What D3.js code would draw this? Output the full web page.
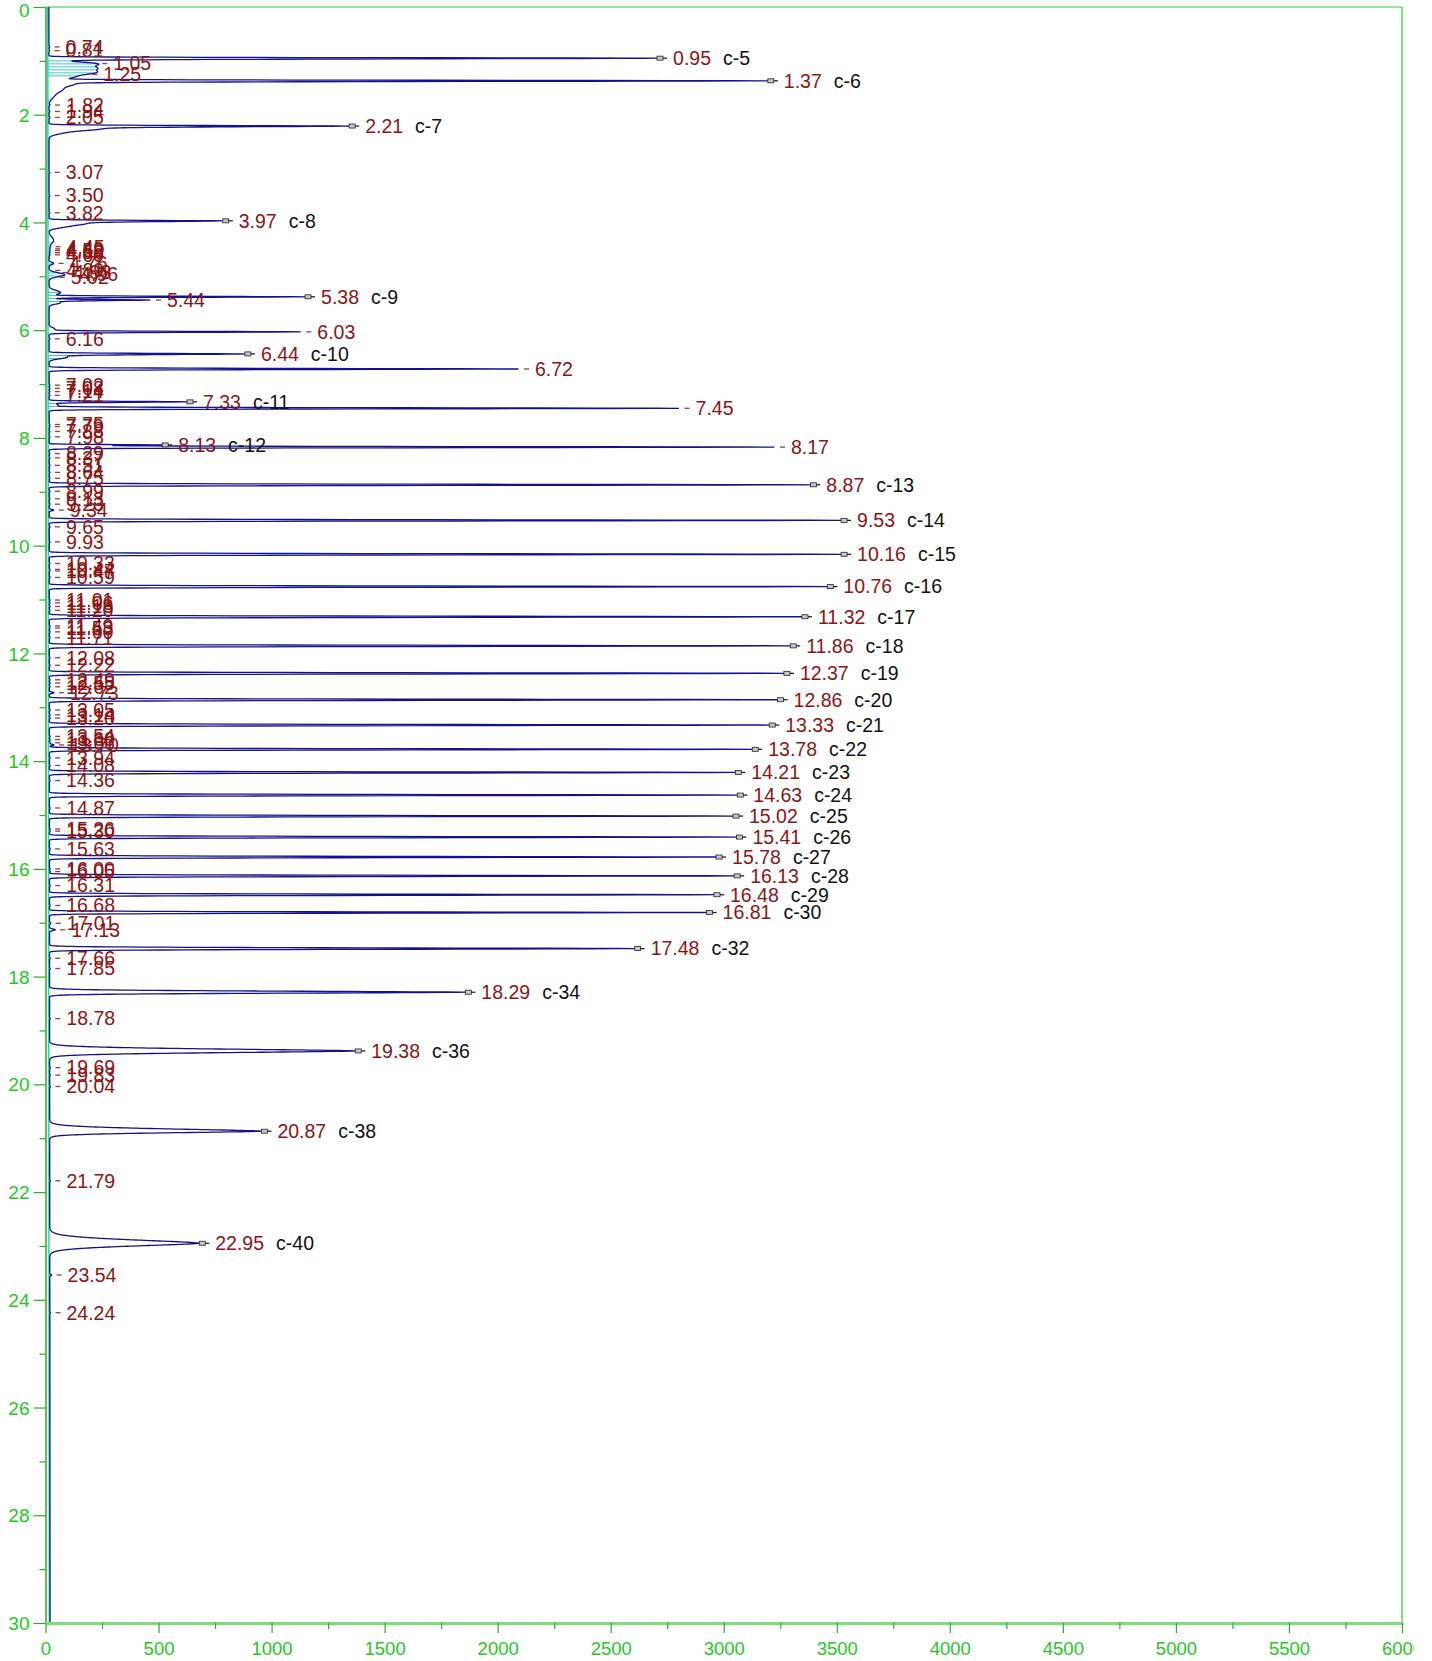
<!DOCTYPE html>
<html><head><meta charset="utf-8">
<script src="https://cdn.jsdelivr.net/npm/d3@7"></script>
<style>
html,body{margin:0;padding:0;background:#fff;}
svg{display:block;}
text{font-family:"Liberation Sans",Arial,Helvetica,sans-serif;}
</style></head>
<body>
<script>
// ---- Data: named (labelled) peaks (apex intensity) ----
const peakTimes   = [0.95,1.37,2.21,3.97,5.38,5.44,6.03,6.44,6.72,7.33,7.45,8.13,8.17,8.87,9.53,10.16,10.76,11.32,11.86,12.37,12.86,13.33,13.78,14.21,14.63,15.02,15.41,15.78,16.13,16.48,16.81,17.48,18.29,19.38,20.87,22.95];
const peakHeights = [2705,3195,1343,784,1148,462,1127,882,2090,626,2800,516,3222,3383,3519,3519,3458,3346,3294,3266,3238,3201,3126,3051,3060,3041,3056,2966,3046,2957,2924,2606,1857,1370,955,680];
const peakNames   = ["c-5","c-6","c-7","c-8","c-9","","","c-10","","c-11","","c-12","","c-13","c-14","c-15","c-16","c-17","c-18","c-19","c-20","c-21","c-22","c-23","c-24","c-25","c-26","c-27","c-28","c-29","c-30","c-32","c-34","c-36","c-38","c-40"];
const peakWidthL  = [0.013,0.013,0.013,0.013,0.013,0.013,0.013,0.013,0.014,0.013,0.014,0.010,0.014,0.0145,0.0145,0.0145,0.0145,0.0145,0.0145,0.0145,0.0145,0.0145,0.0145,0.0145,0.0145,0.0145,0.0145,0.0145,0.0145,0.0145,0.0145,0.019,0.028,0.05,0.06,0.087];
const peakWidthR  = [0.020,0.017,0.020,0.020,0.013,0.015,0.015,0.018,0.015,0.013,0.015,0.010,0.015,0.0155,0.0155,0.0155,0.0155,0.0155,0.0155,0.0155,0.0155,0.0155,0.0155,0.0155,0.0155,0.0155,0.0155,0.0155,0.0155,0.0155,0.0155,0.019,0.025,0.045,0.042,0.073];

// ---- Data: broad humps / tails in the trace (unlabelled) ----
const humpTimes   = [1.05,1.13,1.22,1.31,1.42,1.52,1.65,2.26,2.32,4.02,4.08,4.33,4.76,4.97,5.30,5.49,5.98,6.50,7.39,17.13];
const humpHeights = [190,175,195,80,100,60,20,200,70,150,60,20,20,70,50,50,25,80,40,25];
const humpSigmas  = [0.035,0.04,0.045,0.03,0.04,0.06,0.06,0.03,0.04,0.03,0.03,0.06,0.02,0.035,0.04,0.025,0.03,0.03,0.03,0.015];

// ---- Data: small labelled peaks ----
const minorTimes   = [0.74,0.81,1.05,1.25,1.82,1.94,2.05,3.07,3.50,3.82,4.45,4.49,4.52,4.56,4.60,4.76,4.89,4.93,4.96,5.02,6.16,7.02,7.08,7.14,7.21,7.75,7.79,7.88,7.98,8.29,8.37,8.51,8.64,8.75,8.99,9.13,9.23,9.34,9.65,9.93,10.33,10.44,10.47,10.59,11.01,11.06,11.13,11.20,11.49,11.53,11.60,11.71,12.08,12.22,12.49,12.55,12.62,12.73,13.05,13.14,13.20,13.54,13.60,13.66,13.70,13.94,14.08,14.36,14.87,15.26,15.30,15.63,16.00,16.05,16.31,16.68,17.01,17.13,17.66,17.85,18.78,19.69,19.83,20.04,21.79,23.54,24.24];
const minorHeights = [3,3,0,0,4,4,4,3,3,3,4,4,4,4,4,0,0,0,0,0,3,3,3,3,3,3,3,3,3,3,3,3,3,3,3,3,3,20,3,3,3,3,3,3,3,3,3,3,3,3,3,3,3,3,3,3,3,20,3,3,3,3,3,3,20,3,3,3,3,3,3,3,3,3,3,3,5,0,3,3,3,3,3,3,3,8,3];

// ---- Data: integrated (hatched) regions ----
const hatchStart = [1.00,4.38,5.30,7.36,8.11,6.47];
const hatchEnd   = [1.33,5.06,5.47,7.42,8.15,6.55];

// ---- Axis ticks ----
const xTickValues = d3.range(0, 6001, 500);
const xMinorTicks = d3.range(250, 6000, 500);
const yTickValues = d3.range(0, 31, 2);
const yMinorTicks = d3.range(1, 30, 2);

// ---- Scales ----
const x = d3.scaleLinear().domain([0, 6000]).range([45.5, 1402]);
const y = d3.scaleLinear().domain([0, 30]).range([7, 1623]);

const baseTrace = t => 15 + t * 0.17;
const baseCyan  = t => 10 + t * 0.23;

function peakShape(i, t, amp) {
  const d = t - peakTimes[i];
  const s = d < 0 ? peakWidthL[i] : peakWidthR[i];
  const r = Math.abs(d) / s;
  return r < 12 ? amp * Math.exp(-Math.pow(r, 1.6)) : 0;
}
function backgroundAt(t) {
  let v = baseTrace(t);
  for (let i = 0; i < humpTimes.length; i++) {
    const r = (t - humpTimes[i]) / humpSigmas[i];
    if (Math.abs(r) < 6) v += humpHeights[i] * Math.exp(-0.5 * r * r);
  }
  for (let i = 0; i < minorTimes.length; i++) {
    if (!minorHeights[i]) continue;
    const r = (t - minorTimes[i]) / 0.012;
    if (Math.abs(r) < 6) v += minorHeights[i] * Math.exp(-0.5 * r * r);
  }
  return v;
}
// amplitude above everything else so that the apex reaches the read height
const peakAmp = peakHeights.map((h, i) => {
  const t = peakTimes[i];
  let other = backgroundAt(t);
  peakTimes.forEach((_, j) => { if (j !== i) other += peakShape(j, t, peakHeights[j]); });
  return Math.max(0, h - other);
});
function traceAt(t) {
  let v = backgroundAt(t);
  for (let i = 0; i < peakTimes.length; i++) v += peakShape(i, t, peakAmp[i]);
  return v;
}

let ts = d3.range(0, 30.0001, 0.002).concat(peakTimes);
ts.sort((a, b) => a - b);
const trace = ts.map(t => ({t, v: traceAt(t)}));

const svg = d3.select("body").append("svg").attr("width", 1414).attr("height", 1661);

const green = "#1fc81f";

// frame (top / right)
svg.append("line").attr("x1", x(0)).attr("x2", x(6000)).attr("y1", y(0)).attr("y2", y(0))
  .attr("stroke", "#33cc33").attr("stroke-width", 1.2);
svg.append("line").attr("x1", x(6000)).attr("x2", x(6000)).attr("y1", y(0)).attr("y2", y(30))
  .attr("stroke", "#33cc33").attr("stroke-width", 1.2);

// cyan baseline
svg.append("line").attr("x1", x(baseCyan(0))).attr("x2", x(baseCyan(30)))
  .attr("y1", y(0)).attr("y2", y(30)).attr("stroke", "#35c9c9").attr("stroke-width", 1.5);

// hatches
const hatchG = svg.append("g");
hatchStart.forEach((t0, i) => {
  const t1 = hatchEnd[i];
  const step = 3 / (y(1) - y(0));
  for (let t = t0; t <= t1; t += step) {
    hatchG.append("line").attr("x1", x(baseCyan(t))).attr("x2", x(traceAt(t)))
      .attr("y1", y(t)).attr("y2", y(t)).attr("stroke", "#3cc8c8").attr("stroke-width", 1);
  }
});

// trace
const line = d3.line().x(d => x(d.v)).y(d => y(d.t));
svg.append("path").datum(trace).attr("d", line).attr("fill", "none")
  .attr("stroke", "#12128a").attr("stroke-width", 1.3).attr("stroke-linejoin", "round");

// axes
const yAx = svg.append("g").attr("transform", `translate(${x(0)},0)`)
  .call(d3.axisLeft(y).tickValues(yTickValues).tickSize(12).tickSizeOuter(0).tickFormat(d3.format("d")));
const yAxMinor = svg.append("g").attr("transform", `translate(${x(0)},0)`)
  .call(d3.axisLeft(y).tickValues(yMinorTicks).tickSize(6).tickSizeOuter(0).tickFormat(""));
yAxMinor.select(".domain").remove();
[yAx, yAxMinor].forEach(g => {
  g.selectAll("line").attr("stroke", "#22b022").attr("stroke-width", 1.2);
});
yAx.select(".domain").attr("stroke", "#22b022").attr("stroke-width", 1.5);
yAx.selectAll("text").attr("x", -16).attr("dy", "0.35em").attr("fill", green)
  .style("font-size", "19px").style("font-family", '"Liberation Sans",Arial,sans-serif');
yAx.selectAll("text").filter(d => d === 0).attr("dy", "0.5em");

const xAx = svg.append("g").attr("transform", `translate(0,${y(30)})`)
  .call(d3.axisBottom(x).tickValues(xTickValues).tickSize(10).tickSizeOuter(0).tickFormat(d3.format("d")));
const xAxMinor = svg.append("g").attr("transform", `translate(0,${y(30)})`)
  .call(d3.axisBottom(x).tickValues(xMinorTicks).tickSize(6).tickSizeOuter(0).tickFormat(""));
xAxMinor.select(".domain").remove();
[xAx, xAxMinor].forEach(g => g.selectAll("line").attr("stroke", "#22b022").attr("stroke-width", 1.2));
xAx.select(".domain").attr("stroke", "#7ddc7d").attr("stroke-width", 3);
xAx.selectAll("text").attr("y", 26).attr("dy", "0.35em").attr("fill", green)
  .style("font-size", "18.5px").style("font-family", '"Liberation Sans",Arial,sans-serif');

// labels
const darkRed = "#8b1414";
const lab = svg.append("g").style("font-size", "19.5px");

minorTimes.forEach((t, i) => {
  const xt = x(traceAt(t));
  const yt = y(t);
  lab.append("line").attr("x1", xt + 5).attr("x2", xt + 10).attr("y1", yt).attr("y2", yt)
    .attr("stroke", "#a03a3a").attr("stroke-width", 1.3);
  lab.append("text").attr("x", xt + 16).attr("y", yt).attr("dy", "0.35em")
    .attr("fill", darkRed).text(t.toFixed(2));
});

peakTimes.forEach((t, i) => {
  const xa = x(traceAt(t));
  const ya = y(t);
  if (peakNames[i]) {
    lab.append("rect").attr("x", xa).attr("y", ya - 2).attr("width", 6).attr("height", 4)
      .attr("fill", "#c8c8c8").attr("stroke", "#222").attr("stroke-width", 0.8);
    lab.append("line").attr("x1", xa + 6).attr("x2", xa + 10).attr("y1", ya).attr("y2", ya)
      .attr("stroke", "#111").attr("stroke-width", 1.2);
    const tx = lab.append("text").attr("x", xa + 16).attr("y", ya).attr("dy", "0.35em");
    tx.append("tspan").attr("fill", darkRed).text(t.toFixed(2));
    tx.append("tspan").attr("dx", 12).attr("fill", "#111").text(peakNames[i]);
  } else {
    lab.append("line").attr("x1", xa + 6).attr("x2", xa + 11).attr("y1", ya).attr("y2", ya)
      .attr("stroke", "#a03a3a").attr("stroke-width", 1.3);
    lab.append("text").attr("x", xa + 17).attr("y", ya).attr("dy", "0.35em")
      .attr("fill", darkRed).text(t.toFixed(2));
  }
});
</script>
</body></html>
